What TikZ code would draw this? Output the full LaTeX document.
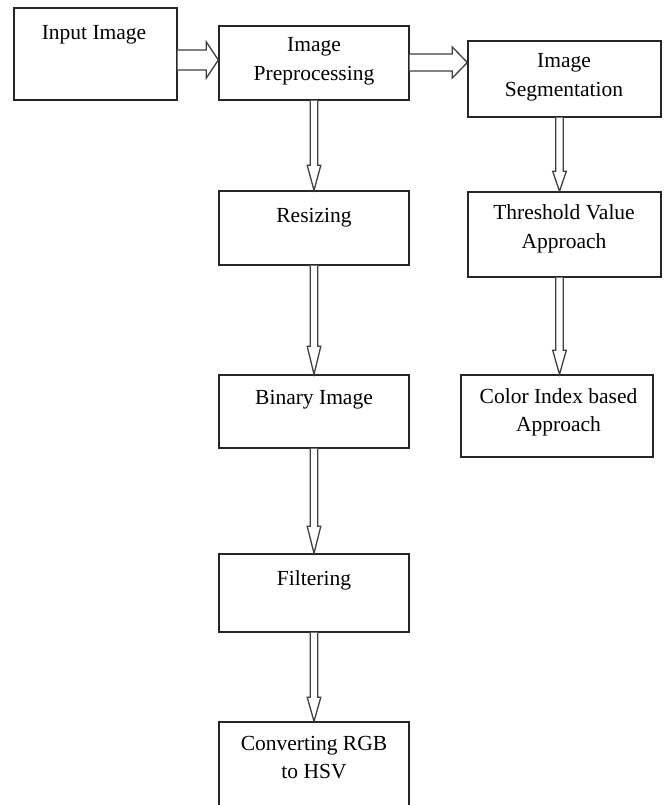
\documentclass[tikz,border=0pt]{standalone}
\usepackage{fontspec}
\setmainfont{Liberation Serif}
\usetikzlibrary{calc}
\tikzset{
  box/.style={draw=black!85, line width=1.4pt, fill=white, inner sep=0pt, rectangle},
  txt/.style={font=\fontsize{21.5}{28.5}\selectfont, align=center, inner sep=0pt, text=black},
  blk/.style={draw=black!75, line width=1.3pt, fill=white, line join=miter},
}
\newcommand\vblk[4]{% src, tgt, xoff, head length
  \draw[blk] ($(#1.south)+(#3-3.8,0)$) -- ($(#1.south |- #2.north)+(#3-3.8,-#4)$) -- ($(#1.south |- #2.north)+(#3-6.8,-#4)$) -- ($(#1.south |- #2.north)+(#3,0)$) -- ($(#1.south |- #2.north)+(#3+6.8,-#4)$) -- ($(#1.south |- #2.north)+(#3+3.8,-#4)$) -- ($(#1.south)+(#3+3.8,0)$);}
\newcommand\hblk[6]{% src, tgt, yoff, shaft half, head half, head length
  \draw[blk] ($(#1.east)+(0,#3-#4)$) -- ($(#2.west |- #1.east)+(-#6,#3-#4)$) -- ($(#2.west |- #1.east)+(-#6,#3-#5)$) -- ($(#2.west |- #1.east)+(0,#3)$) -- ($(#2.west |- #1.east)+(-#6,#3+#5)$) -- ($(#2.west |- #1.east)+(-#6,#3+#4)$) -- ($(#1.east)+(0,#3+#4)$);}
\begin{document}
\begin{tikzpicture}[x=1pt,y=-1pt]
\useasboundingbox (0,0) rectangle (665,805);
\fill[white] (0,0) rectangle (665,805);
% boxes
\node[box, minimum width=163pt, minimum height=92pt] (in) at (95.5,54) {};
\node[box, minimum width=190pt, minimum height=74pt] (pre) at (314,63) {};
\node[box, minimum width=193pt, minimum height=76pt] (seg) at (564.5,79) {};
\node[box, minimum width=190pt, minimum height=74pt] (res) at (314,228) {};
\node[box, minimum width=190pt, minimum height=73pt] (bin) at (314,411.5) {};
\node[box, minimum width=190pt, minimum height=78pt] (fil) at (314,593) {};
\node[box, minimum width=190pt, minimum height=100pt] (conv) at (314,772) {};
\node[box, minimum width=193pt, minimum height=85pt] (thr) at (564.5,234.5) {};
\node[box, minimum width=192pt, minimum height=82pt] (col) at (557,416) {};
% texts
\node[txt] (inT) at (94,35) {Input Image};
\node[txt] (preT) at (314,61.5) {Image\\Preprocessing};
\node[txt] (segT) at (564,77.5) {Image\\Segmentation};
\node[txt] (resT) at (314,218) {Resizing};
\node[txt] (binT) at (314,400) {Binary Image};
\node[txt] (filT) at (314,580) {Filtering};
\node[txt] (convT) at (314,757.5) {Converting RGB\\to HSV};
\node[txt] (thrT) at (564,229) {Threshold Value\\Approach};
\node[txt] (colT) at (558.5,412.5) {Color Index based\\Approach};
% arrows
\hblk{in}{pre}{6}{10}{18}{12}
\hblk{pre}{seg}{-0.5}{8.5}{15.5}{15}
\vblk{pre}{res}{0}{25}
\vblk{res}{bin}{0}{28}
\vblk{bin}{fil}{0}{27}
\vblk{fil}{conv}{0}{24}
\vblk{seg}{thr}{-5}{20}
\vblk{thr}{col}{-5}{24}
\end{tikzpicture}
\end{document}
